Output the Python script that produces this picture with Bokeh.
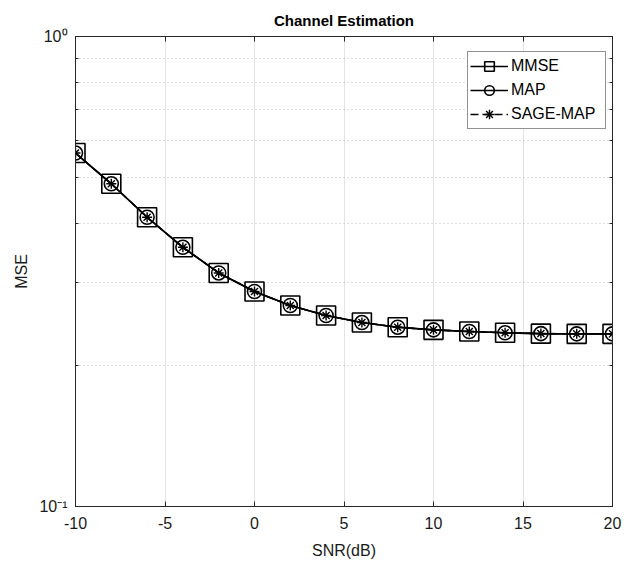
from bokeh.plotting import figure
from bokeh.models import (Range1d, FixedTicker, LinearAxis, LogAxis, Legend, LegendItem,
                          CustomJSTickFormatter)
from bokeh.embed import file_html
from bokeh.resources import INLINE

# ---- data ----
snr_db = [-10, -8, -6, -4, -2, 0, 2, 4, 6, 8, 10, 12, 14, 16, 18, 20]
mse_mmse = [0.565, 0.486, 0.4125, 0.356, 0.314, 0.2867, 0.2677, 0.2549, 0.2463,
            0.2407, 0.2376, 0.2357, 0.2342, 0.2333, 0.2330, 0.2330]
mse_map = [0.565, 0.486, 0.4125, 0.356, 0.314, 0.2867, 0.2677, 0.2549, 0.2463,
           0.2407, 0.2376, 0.2357, 0.2342, 0.2333, 0.2330, 0.2330]
mse_sage = [0.565, 0.486, 0.4125, 0.356, 0.314, 0.2867, 0.2677, 0.2549, 0.2463,
            0.2407, 0.2376, 0.2357, 0.2342, 0.2333, 0.2330, 0.2330]
x_ticks = [-10, -5, 0, 5, 10, 15, 20]
x_labels = {-10: "-10", -5: "-5", 0: "0", 5: "5", 10: "10", 15: "15", 20: "20"}
y_major = [0.1, 1.0]
y_minor = [0.2, 0.3, 0.4, 0.5, 0.6, 0.7, 0.8, 0.9]
y_labels = {0.1: "10\u207b\u00b9", 1.0: "10\u2070"}

FONT = "Liberation Sans"
INK = "#1a1a1a"

p = figure(frame_width=537, frame_height=470, y_axis_type="log",
           x_range=Range1d(-10, 20), y_range=Range1d(0.1, 1.0),
           output_backend="svg", toolbar_location=None,
           min_border_left=75, min_border_right=10, min_border_top=36, min_border_bottom=58,
           title="Channel Estimation")
p.background_fill_color = "white"
p.border_fill_color = "white"
p.outline_line_color = "black"
p.outline_line_width = 1

p.title.text_font = FONT
p.title.text_font_size = "15px"
p.title.text_font_style = "bold"
p.title.text_color = "black"
p.title.align = "center"
p.title.standoff = 16

xt = FixedTicker(ticks=x_ticks, minor_ticks=[])
yt = FixedTicker(ticks=y_major, minor_ticks=y_minor)

for ax in p.xaxis:
    ax.ticker = xt
    ax.axis_label = "SNR(dB)"
    ax.major_label_overrides = x_labels
for ax in p.yaxis:
    ax.ticker = yt
    ax.axis_label = "MSE"
    ax.major_label_overrides = y_labels

for ax in list(p.xaxis) + list(p.yaxis):
    ax.axis_line_color = "#262626"
    ax.major_tick_line_color = "#262626"
    ax.minor_tick_line_color = "#262626"
    ax.major_tick_in = 5
    ax.major_tick_out = 0
    ax.minor_tick_in = 3
    ax.minor_tick_out = 0
    ax.major_label_text_font = FONT
    ax.major_label_text_font_size = "16px"
    ax.major_label_text_color = INK
    ax.axis_label_text_font = FONT
    ax.axis_label_text_font_size = "16px"
    ax.axis_label_text_font_style = "normal"
    ax.axis_label_text_color = INK
p.xaxis.major_label_standoff = 10
p.xaxis.axis_label_standoff = 10
p.yaxis.major_label_standoff = 8
p.yaxis.axis_label_standoff = 6

blank = CustomJSTickFormatter(code="return ''")
top = LinearAxis(ticker=xt, formatter=blank, major_tick_in=5, major_label_standoff=0,
                 major_tick_out=0, axis_line_color="#262626", major_tick_line_color="#262626")
right = LogAxis(ticker=yt, formatter=blank, major_tick_in=5, major_label_standoff=0,
                major_tick_out=0, minor_tick_in=3, minor_tick_out=0,
                axis_line_color="#262626", major_tick_line_color="#262626",
                minor_tick_line_color="#262626")
p.add_layout(top, "above")
p.add_layout(right, "right")

p.xgrid.ticker = xt
p.xgrid.grid_line_color = "#e3e3e3"
p.xgrid.grid_line_width = 1
p.ygrid.ticker = yt
p.ygrid.grid_line_color = None
p.ygrid.minor_grid_line_color = "#bdbdbd"
p.ygrid.minor_grid_line_dash = "1 3"
p.ygrid.minor_grid_line_width = 1

# ---- series ----
l1 = p.line(snr_db, mse_mmse, line_color="black", line_width=1.6)
s1 = p.scatter(snr_db, mse_mmse, marker="square", size=19, fill_color=None,
               line_color="black", line_width=1.6)
l2 = p.line(snr_db, mse_map, line_color="black", line_width=1.6)
s2 = p.scatter(snr_db, mse_map, marker="circle", size=14, fill_color=None,
               line_color="black", line_width=1.6)
l3 = p.line(snr_db, mse_sage, line_color="black", line_width=1.6, line_dash="8 4")
s3 = p.scatter(snr_db, mse_sage, marker="asterisk", size=10, line_color="black",
               line_width=1.4)

legend = Legend(items=[
    LegendItem(label="MMSE", renderers=[l1, s1]),
    LegendItem(label="MAP", renderers=[l2, s2]),
    LegendItem(label="SAGE-MAP", renderers=[l3, s3]),
], location=(392, 377))
legend.border_line_color = "#262626"
legend.border_line_width = 1
legend.background_fill_color = "white"
legend.background_fill_alpha = 1
legend.label_text_font = FONT
legend.label_text_font_size = "16px"
legend.label_text_color = "black"
legend.padding = 2
legend.margin = 0
legend.spacing = 0
legend.glyph_width = 38
legend.glyph_height = 24
legend.label_height = 24
legend.label_width = 92
legend.label_standoff = 3
p.add_layout(legend, "center")

open("out.html", "w").write(file_html(p, INLINE))
